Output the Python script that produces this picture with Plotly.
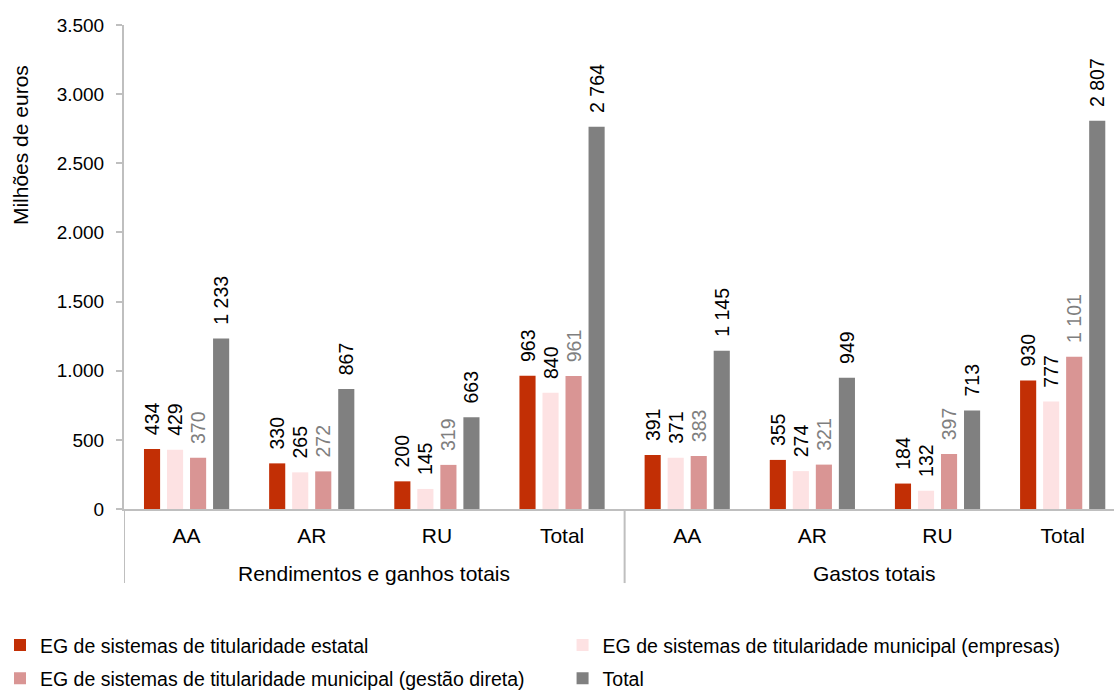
import plotly.graph_objects as go

group_names = ["Rendimentos e ganhos totais", "Gastos totais"]
subcats = ["AA", "AR", "RU", "Total"] * 2

series_names = [
    "EG de sistemas de titularidade estatal",
    "EG de sistemas de titularidade municipal (empresas)",
    "EG de sistemas de titularidade municipal (gestão direta)",
    "Total",
]
estatal = [434, 330, 200, 963, 391, 355, 184, 930]
empresas = [429, 265, 145, 840, 371, 274, 132, 777]
direta = [370, 272, 319, 961, 383, 321, 397, 1101]
total = [1233, 867, 663, 2764, 1145, 949, 713, 2807]

y_ticks = [0, 500, 1000, 1500, 2000, 2500, 3000, 3500]

colors = ["#C22F05", "#FDE2E3", "#D99594", "#808080"]
label_colors = ["#000000", "#000000", "#7F7F7F", "#000000"]
legend_ids = ["legend", "legend2", "legend", "legend2"]
axis_color = "#BFBFBF"

FONT = "Liberation Sans, Arial, sans-serif"
FS = 19.5
FS_CAT = 21

xpos = list(range(len(subcats)))


def fmt(v):
    return "\u00a0\u00a0" + f"{v:,}".replace(",", " ")


fig = go.Figure()
for i, (name, vals, c, lc) in enumerate(zip(series_names, [estatal, empresas, direta, total], colors, label_colors)):
    fig.add_trace(go.Bar(
        x=xpos,
        y=vals,
        name=name,
        legend=legend_ids[i],
        legendgroup=f"g{i}",
        marker=dict(color=c, line=dict(width=0)),
        text=[fmt(v) for v in vals],
        textposition="outside",
        textangle=-90,
        textfont=dict(family=FONT, size=FS, color=lc),
        constraintext="none",
        cliponaxis=False,
    ))

# group labels and dividers
n_sub = 4
for gi, gname in enumerate(group_names):
    center = gi * n_sub + (n_sub - 1) / 2
    fig.add_annotation(
        x=center, y=-0.134, xref="x", yref="paper",
        text=gname, showarrow=False,
        font=dict(family=FONT, size=FS_CAT, color="#000000"),
        xanchor="center", yanchor="middle",
    )
    fig.add_shape(
        type="line", xref="x", yref="paper",
        x0=gi * n_sub - 0.5, x1=gi * n_sub - 0.5, y0=0, y1=-0.153,
        line=dict(color=axis_color, width=2),
    )

fig.add_annotation(
    x=-0.105, y=0.752, xref="paper", yref="paper",
    text="Milhões de euros", textangle=-90, showarrow=False,
    font=dict(family=FONT, size=21, color="#000000"),
    xanchor="center", yanchor="middle",
)

legend_common = dict(
    orientation="v",
    xref="container", yref="container",
    xanchor="left", yanchor="top",
    font=dict(family=FONT, size=FS, color="#000000"),
    tracegroupgap=5,
    traceorder="grouped",
    bgcolor="rgba(0,0,0,0)",
)

fig.update_layout(
    width=1114,
    height=693,
    margin=dict(l=124, r=0, t=25, b=184, autoexpand=False),
    paper_bgcolor="white",
    plot_bgcolor="white",
    barmode="group",
    bargap=0.264,
    bargroupgap=0.3,
    separators=",.",
    font=dict(family=FONT, size=FS, color="#000000"),
    showlegend=True,
    legend=dict(x=0.0, y=0.097, **legend_common),
    legend2=dict(x=0.505, y=0.097, **legend_common),
    xaxis=dict(
        range=[-0.5, 7.41],
        tickmode="array",
        tickvals=xpos,
        ticktext=subcats,
        showline=True,
        linecolor=axis_color,
        linewidth=2,
        ticks="",
        ticklabelstandoff=7,
        showgrid=False,
        zeroline=False,
        automargin=False,
        tickfont=dict(family=FONT, size=FS_CAT, color="#000000"),
    ),
    yaxis=dict(
        range=[0, 3500],
        tickmode="array",
        tickvals=y_ticks,
        tickformat=",d",
        showline=True,
        linecolor=axis_color,
        linewidth=2,
        ticks="outside",
        ticklen=6,
        tickcolor=axis_color,
        tickwidth=2,
        ticklabelstandoff=8,
        showgrid=False,
        zeroline=False,
        automargin=False,
        tickfont=dict(family=FONT, size=19, color="#000000"),
    ),
)

fig.write_html(
    "out.html",
    config={"displayModeBar": False},
    post_script="document.body.style.margin='0';document.body.style.padding='0';",
)
